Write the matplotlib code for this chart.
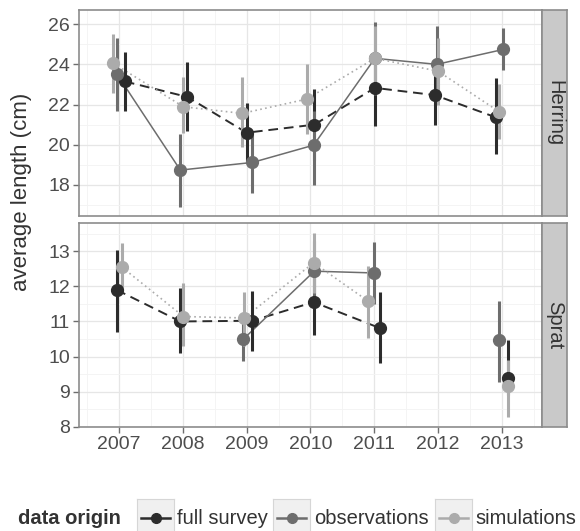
import matplotlib.pyplot as plt
import numpy as np
from matplotlib.lines import Line2D

plt.rcParams['font.family'] = ['Liberation Sans', 'DejaVu Sans']

nan = np.nan

years = [2007, 2008, 2009, 2010, 2011, 2012, 2013]
series = ["full survey", "observations", "simulations"]
panels = ["Herring", "Sprat"]

# Herring
herring_full_mean = [23.15, 22.38, 20.60, 21.00, 22.83, 22.47, 21.36]
herring_full_lo = [21.70, 20.70, 19.07, 19.23, 20.93, 20.98, 19.53]
herring_full_hi = [24.60, 24.10, 22.08, 22.75, 24.70, 24.00, 23.30]
herring_obs_mean = [23.50, 18.74, 19.12, 19.98, 24.30, 24.00, 24.74]
herring_obs_lo = [21.70, 16.91, 17.60, 18.00, 22.50, 22.20, 23.70]
herring_obs_hi = [25.30, 20.56, 20.56, 21.70, 26.10, 25.90, 25.80]
herring_sim_mean = [24.05, 21.89, 21.56, 22.27, 24.30, 23.66, 21.64]
herring_sim_lo = [22.60, 20.60, 19.90, 20.56, 22.70, 22.00, 20.30]
herring_sim_hi = [25.50, 23.38, 23.35, 24.04, 25.90, 25.30, 23.00]

# Sprat (no data in 2012)
sprat_full_mean = [11.90, 11.00, 11.02, 11.55, 10.81, nan, 9.40]
sprat_full_lo = [10.71, 10.10, 10.17, 10.62, 9.81, nan, 8.90]
sprat_full_hi = [13.03, 11.95, 11.86, 12.50, 11.83, nan, 10.48]
sprat_obs_mean = [nan, nan, 10.50, 12.43, 12.38, nan, 10.46]
sprat_obs_lo = [nan, nan, 9.87, 11.60, 11.50, nan, 9.29]
sprat_obs_hi = [nan, nan, 11.10, 13.29, 13.26, nan, 11.57]
sprat_sim_mean = [12.55, 11.14, 11.10, 12.67, 11.57, nan, 9.17]
sprat_sim_lo = [11.90, 10.30, 10.30, 11.80, 10.53, nan, 8.29]
sprat_sim_hi = [13.24, 12.10, 11.83, 13.53, 12.57, nan, 9.90]

# horizontal dodge of the points, in years
herring_shift = {
    "full survey": [0.09, 0.07, 0.0, 0.06, 0.01, -0.05, -0.09],
    "observations": [-0.03, -0.04, 0.09, 0.05, 0.01, -0.02, 0.02],
    "simulations": [-0.09, 0.01, -0.07, -0.06, 0.01, 0.0, -0.04],
}
sprat_shift = {
    "full survey": [-0.04, -0.04, 0.09, 0.05, 0.09, 0.0, 0.09],
    "observations": [0.0, 0.0, -0.05, 0.06, -0.01, 0.0, -0.05],
    "simulations": [0.04, 0.01, -0.04, 0.05, -0.09, 0.0, 0.09],
}

colors = {"full survey": "#2c2c2c", "observations": "#6d6d6d", "simulations": "#ababab"}
styles = {"full survey": (0, (5, 3)), "observations": "-", "simulations": (0, (1, 2))}
widths = {"full survey": 1.4, "observations": 1.1, "simulations": 1.2}

data = {
    "Herring": {
        "full survey": (herring_full_mean, herring_full_lo, herring_full_hi),
        "observations": (herring_obs_mean, herring_obs_lo, herring_obs_hi),
        "simulations": (herring_sim_mean, herring_sim_lo, herring_sim_hi),
    },
    "Sprat": {
        "full survey": (sprat_full_mean, sprat_full_lo, sprat_full_hi),
        "observations": (sprat_obs_mean, sprat_obs_lo, sprat_obs_hi),
        "simulations": (sprat_sim_mean, sprat_sim_lo, sprat_sim_hi),
    },
}
shifts = {"Herring": herring_shift, "Sprat": sprat_shift}
ylims = {"Herring": (16.45, 26.7), "Sprat": (8.0, 13.8)}
yticks = {"Herring": [18, 20, 22, 24, 26], "Sprat": [8, 9, 10, 11, 12, 13]}

fig = plt.figure(figsize=(5.8, 5.31), dpi=100)
left, right = 0.136, 0.9345
boxes = {"Herring": (0.593, 0.981), "Sprat": (0.196, 0.580)}
tick_col = "#4d4d4d"

for name in panels:
    b, t = boxes[name]
    ax = fig.add_axes([left, b, right - left, t - b])
    for s in series:
        mean, lo, hi = [np.array(v, dtype=float) for v in data[name][s]]
        x = np.array(years) + np.array(shifts[name][s])
        ax.vlines(x, lo, hi, color=colors[s], lw=2.2, zorder=3)
        ax.plot(x, mean, color=colors[s], ls=styles[s], lw=widths[s], zorder=2)
        ax.plot(x, mean, 'o', color=colors[s], ms=8.5, zorder=4)
    ax.set_xticks(years)
    ax.set_xticks(np.arange(2006.5, 2013.6, 1.0), minor=True)
    yt = yticks[name]
    step = yt[1] - yt[0]
    ax.set_yticks(yt)
    ax.set_yticks([v + 0.5 * step for v in [yt[0] - step] + yt], minor=True)
    ax.set_xlim(2006.37, 2013.63)
    ax.set_ylim(*ylims[name])
    ax.grid(which="major", color="#e6e6e6", lw=0.9)
    ax.grid(which="minor", color="#f3f3f3", lw=0.6)
    ax.set_axisbelow(True)
    for sp in ax.spines.values():
        sp.set_color("#8c8c8c")
        sp.set_linewidth(1.2)
    ax.tick_params(which="major", labelsize=14, colors="#6e6e6e", labelcolor=tick_col,
                   length=4.5, width=1.0, pad=2)
    ax.tick_params(which="minor", length=0)
    if name == "Herring":
        ax.tick_params(axis="x", labelbottom=False, length=0)

    # facet strip
    sax = fig.add_axes([right, b, 0.043, t - b])
    sax.set_facecolor("#c9c9c9")
    sax.set_xticks([])
    sax.set_yticks([])
    for sp in sax.spines.values():
        sp.set_color("#8c8c8c")
        sp.set_linewidth(1.2)
    sax.text(0.5, 0.5, name, rotation=-90, ha="center", va="center",
             fontsize=14.5, color="#333333", transform=sax.transAxes)

fig.text(0.037, 1 - 192 / 531, "average length (cm)", rotation=90,
         ha="center", va="center", fontsize=16, color="#333333")

# legend at the bottom
ly = 1 - 518 / 531
fig.text(18 / 580, ly, "data origin", fontsize=14.5, fontweight="bold",
         color="#333333", ha="left", va="center")
key_x = [137, 273, 435]
text_x = [177, 314, 475]
for s, kx, tx in zip(series, key_x, text_x):
    kax = fig.add_axes([kx / 580, 1 - 536 / 531, 37 / 580, 37 / 531])
    kax.set_facecolor("#f0f0f0")
    kax.set_xlim(0, 1)
    kax.set_ylim(0, 1)
    kax.set_xticks([])
    kax.set_yticks([])
    for sp in kax.spines.values():
        sp.set_color("#d6d6d6")
    kax.add_line(Line2D([0.1, 0.9], [0.5, 0.5], color=colors[s], lw=1.8))
    kax.plot([0.5], [0.5], 'o', color=colors[s], ms=7)
    fig.text(tx / 580, ly, s, fontsize=14.5, color="#333333", ha="left", va="center")

fig.savefig("out.png", dpi=100)
